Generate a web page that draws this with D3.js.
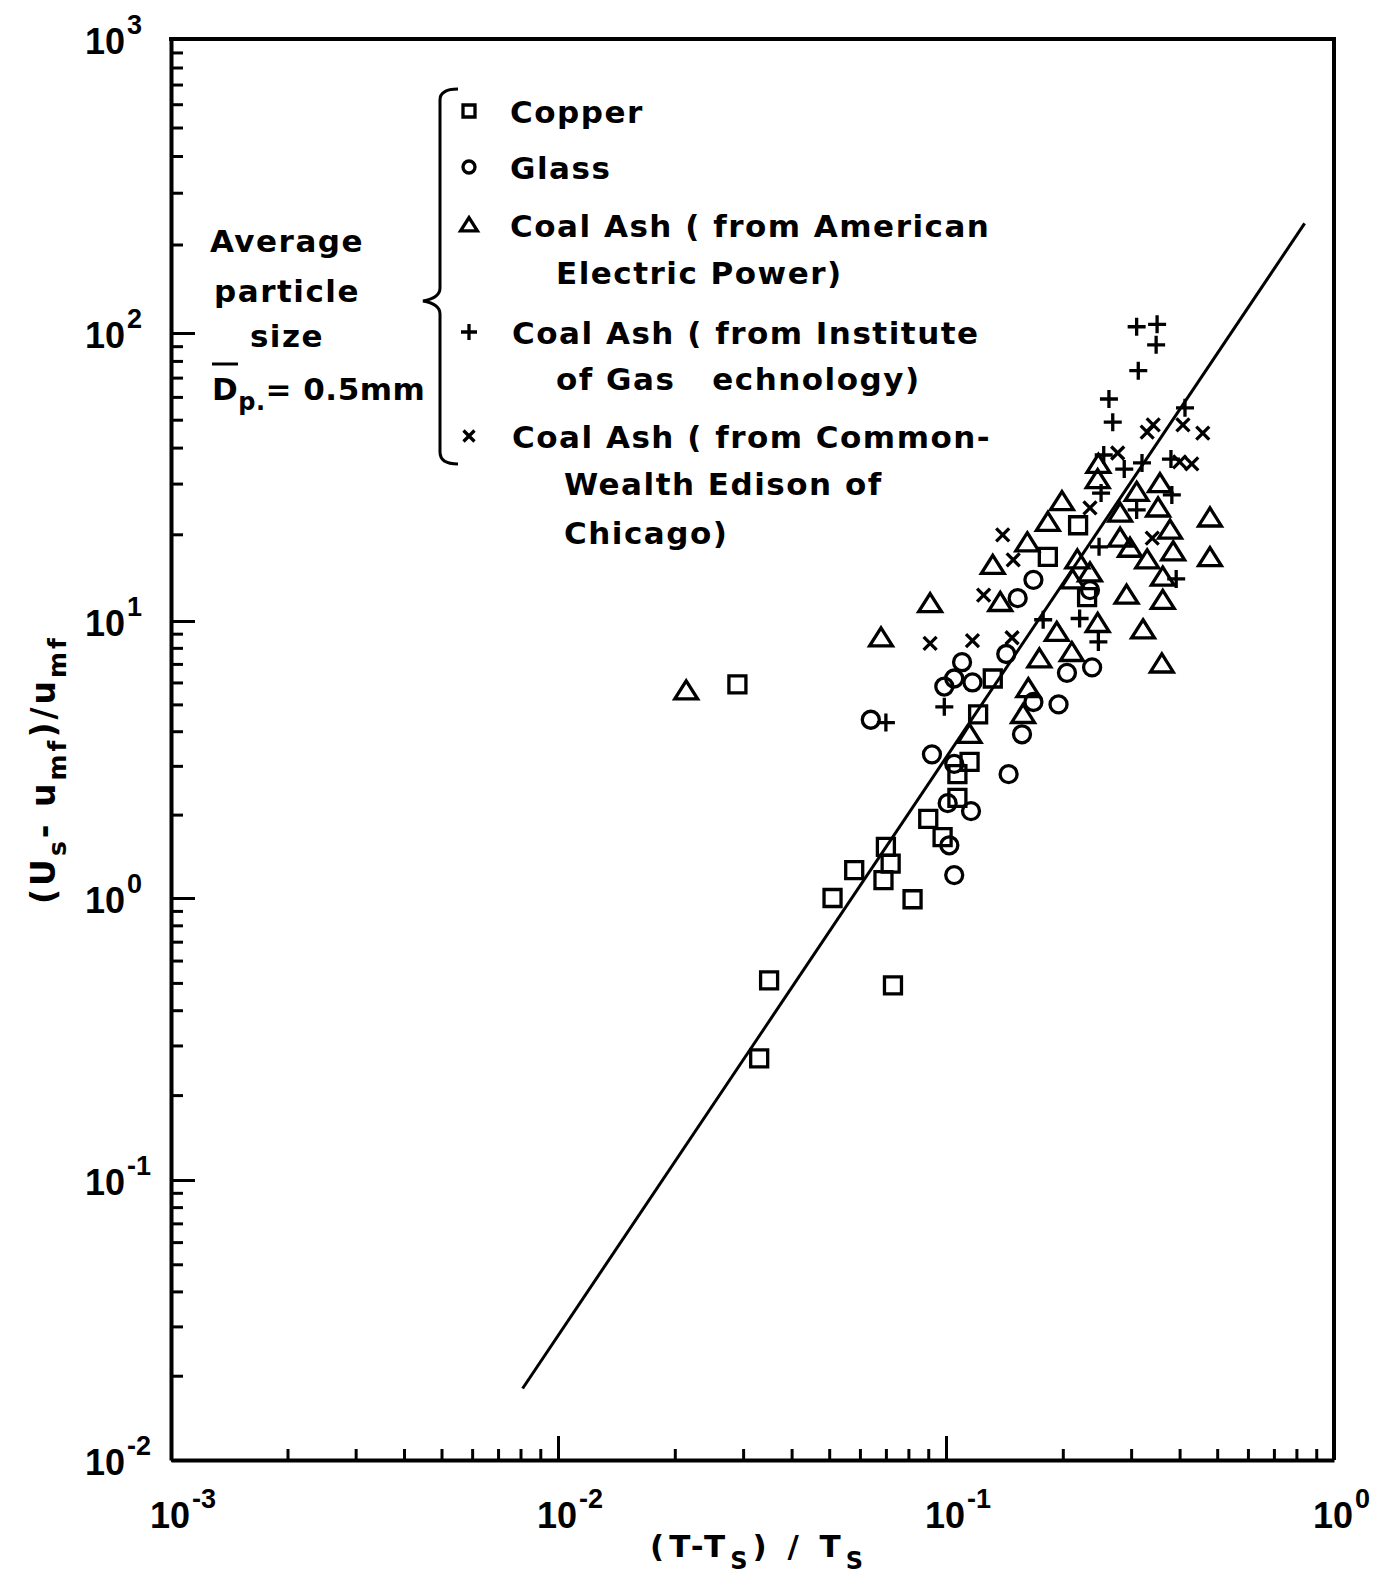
<!DOCTYPE html>
<meta charset="utf-8">
<style>
body { margin: 0; background: #fff; }
.axis path.domain { stroke-width: 4px; }
.axis line { stroke-width: 3px; }
.lbl { font-family: "DejaVu Sans", sans-serif; font-weight: bold; fill: #000; }
.tick-lbl { font-family: "Liberation Sans", sans-serif; font-weight: bold; fill: #000; }
.note { font-family: "DejaVu Sans", sans-serif; font-weight: bold; font-size: 31px; letter-spacing: 1.5px; fill: #000; white-space: pre; }
.mark { fill: none; stroke: #000; stroke-width: 3.3px; }
</style>
<body>
<div id="chart"></div>
<script src="https://d3js.org/d3.v7.min.js"></script>
<script>
// points: [ (T-Ts)/Ts , (Us-umf)/umf ]
var copper = [[0.029, 5.9], [0.035, 0.51], [0.033, 0.27], [0.051, 1.0], [0.058, 1.26], [0.070, 1.53],
  [0.072, 1.33], [0.069, 1.16], [0.082, 0.99], [0.073, 0.49], [0.090, 1.93], [0.098, 1.66],
  [0.115, 3.1], [0.107, 2.8], [0.107, 2.3], [0.121, 4.6], [0.132, 6.2], [0.183, 16.7],
  [0.219, 21.5], [0.231, 12.1]];
var glass = [[0.064, 4.4], [0.092, 3.3], [0.105, 3.05], [0.101, 2.2], [0.116, 2.06], [0.102, 1.55],
  [0.105, 1.21], [0.110, 7.1], [0.099, 5.8], [0.105, 6.2], [0.117, 6.0], [0.143, 7.6],
  [0.153, 12.0], [0.168, 13.9], [0.168, 5.1], [0.157, 3.9], [0.145, 2.8], [0.195, 5.0],
  [0.205, 6.5], [0.238, 6.8], [0.235, 12.8]];
var ash_aep = [[0.0214, 5.6], [0.068, 8.7], [0.091, 11.5], [0.132, 15.6], [0.138, 11.6], [0.162, 18.7],
  [0.183, 22], [0.199, 26], [0.174, 7.3], [0.163, 5.7], [0.158, 4.6], [0.115, 3.9],
  [0.247, 35], [0.246, 31], [0.218, 16.3], [0.235, 14.7], [0.212, 13.9], [0.281, 23.7],
  [0.31, 28], [0.356, 30], [0.352, 24.7], [0.378, 20.7], [0.281, 19.4], [0.298, 17.9],
  [0.33, 16.3], [0.385, 17.4], [0.362, 14.2], [0.292, 12.3], [0.362, 11.8], [0.479, 22.8],
  [0.479, 16.6], [0.246, 9.8], [0.193, 9.1], [0.322, 9.3], [0.211, 7.7], [0.36, 7.0]];
var ash_igt = [[0.070, 4.3], [0.099, 4.9], [0.31, 105], [0.35, 107], [0.348, 91], [0.313, 74],
  [0.263, 59], [0.269, 49], [0.413, 55], [0.255, 37.7], [0.288, 33.7], [0.32, 35.4],
  [0.38, 36.5], [0.251, 27.8], [0.382, 27.4], [0.31, 24.3], [0.248, 18.1], [0.392, 14.0],
  [0.221, 10.2], [0.247, 8.4], [0.178, 10.1]];
var ash_cwe = [[0.091, 8.3], [0.117, 8.5], [0.148, 8.7], [0.125, 12.3], [0.14, 19.9], [0.149, 16.3],
  [0.235, 24.7], [0.277, 38.3], [0.33, 45.3], [0.342, 48], [0.408, 48], [0.459, 44.9],
  [0.40, 35.7], [0.43, 35.1], [0.34, 19.4]];
var fit_line = [[0.0081, 0.018], [0.84, 236]];

var x_decades = [1e-3, 1e-2, 1e-1, 1];
var y_decades = [1e-2, 1e-1, 1, 10, 100, 1000];
var x_exp = ["-3", "-2", "-1", "0"];
var y_exp = ["-2", "-1", "0", "1", "2", "3"];

var legend_shapes = ["square", "circle", "triangle", "plus", "cross"];
var legend_text = [["Copper"], ["Glass"],
  ["Coal Ash ( from American", "Electric Power)"],
  ["Coal Ash ( from Institute", "of Gas   echnology)"],
  ["Coal Ash ( from Common-", "Wealth Edison of", "Chicago)"]];
var note_text = ["Average", "particle", "size"];

var width = 1388, height = 1576;

var svg = d3.select("#chart").append("svg")
    .attr("width", width)
    .attr("height", height);
svg.append("rect").attr("width", width).attr("height", height).attr("fill", "#fff");

// printed log paper is a bit uneven, so each decade gets its own span
var x = d3.scaleLog().domain(x_decades).range([171, 558, 946, 1334]);
var y = d3.scaleLog().domain(y_decades).range([1460, 1180, 898, 621, 333, 39]);

function is_decade(v) {
  var l = Math.log10(v);
  return Math.abs(l - Math.round(l)) < 1e-6;
}
var x_minor = x.ticks().filter(function(d) { return !is_decade(d); });
var y_minor = y.ticks().filter(function(d) { return !is_decade(d); });

// axes, ticks pointing inward
svg.append("g").attr("class", "axis")
    .attr("transform", "translate(0,1460)")
    .call(d3.axisBottom(x).tickValues(x_decades).tickSize(-24).tickSizeOuter(0).tickFormat(""));
svg.append("g").attr("class", "axis")
    .attr("transform", "translate(0,1460)")
    .call(d3.axisBottom(x).tickValues(x_minor).tickSize(-11).tickSizeOuter(0).tickFormat(""))
    .select(".domain").remove();
svg.append("g").attr("class", "axis")
    .attr("transform", "translate(171,0)")
    .call(d3.axisLeft(y).tickValues(y_decades).tickSize(-24).tickSizeOuter(0).tickFormat(""));
svg.append("g").attr("class", "axis")
    .attr("transform", "translate(171,0)")
    .call(d3.axisLeft(y).tickValues(y_minor).tickSize(-12).tickSizeOuter(0).tickFormat(""))
    .select(".domain").remove();

svg.append("path")
    .attr("d", "M169," + y(1000) + "H" + x(1) + "V" + y(0.01))
    .attr("fill", "none").attr("stroke", "#000").attr("stroke-width", 4);

// tick labels as 10 with a raised exponent
function power_label(px, py, e) {
  var t = svg.append("text").attr("class", "tick-lbl")
      .attr("x", px).attr("y", py)
      .style("font-size", "36px");
  t.append("tspan").text("10");
  t.append("tspan").attr("dx", 2).attr("dy", -20).style("font-size", "27px").text(e);
}
x_decades.forEach(function(d, i) { power_label(x(d) - 21, 1528, x_exp[i]); });
y_decades.forEach(function(d, i) { power_label(85, y(d) + 15, y_exp[i]); });

// axis titles
var xt = svg.append("text").attr("class", "lbl")
    .attr("x", 650).attr("y", 1557)
    .style("font-size", "31px").style("letter-spacing", "5px");
xt.append("tspan").text("(T-T");
xt.append("tspan").attr("dy", 12).style("font-size", "24px").text("S");
xt.append("tspan").attr("dy", -12).text(") / T");
xt.append("tspan").attr("dy", 12).style("font-size", "24px").text("S");

var yt = svg.append("text").attr("class", "lbl")
    .attr("transform", "translate(55,904) rotate(-90)")
    .style("font-size", "33px").style("letter-spacing", "3px");
yt.append("tspan").text("(U");
yt.append("tspan").attr("dy", 11).style("font-size", "25px").text("s");
yt.append("tspan").attr("dy", -11).text("- u");
yt.append("tspan").attr("dy", 11).style("font-size", "25px").text("mf");
yt.append("tspan").attr("dy", -11).text(")/u");
yt.append("tspan").attr("dy", 11).style("font-size", "25px").text("mf");

// marker shapes
function shape(type, s) {
  if (type == "square") return "M" + (-s) + "," + (-s) + "h" + 2 * s + "v" + 2 * s + "h" + (-2 * s) + "Z";
  if (type == "circle") return "M" + s + ",0A" + s + "," + s + " 0 1,1 " + (-s) + ",0A" + s + "," + s + " 0 1,1 " + s + ",0";
  if (type == "triangle") return "M0," + (-s * 1.05) + "L" + (s * 1.2) + "," + (s * 0.85) + "H" + (-s * 1.2) + "Z";
  if (type == "plus") return "M" + (-s) + ",0H" + s + "M0," + (-s) + "V" + s;
  return "M" + (-s) + "," + (-s) + "L" + s + "," + s + "M" + s + "," + (-s) + "L" + (-s) + "," + s;
}

var series = [
  {data: copper, type: "square", size: 8.5},
  {data: glass, type: "circle", size: 8.5},
  {data: ash_aep, type: "triangle", size: 9.5},
  {data: ash_igt, type: "plus", size: 9},
  {data: ash_cwe, type: "cross", size: 6.5}
];

series.forEach(function(s) {
  svg.append("g").selectAll("path")
      .data(s.data)
    .enter().append("path")
      .attr("class", "mark")
      .attr("transform", function(d) { return "translate(" + x(d[0]) + "," + y(d[1]) + ")"; })
      .attr("d", shape(s.type, s.size));
});

svg.append("path")
    .datum(fit_line)
    .attr("fill", "none").attr("stroke", "#000").attr("stroke-width", 3)
    .attr("d", d3.line().x(function(d) { return x(d[0]); }).y(function(d) { return y(d[1]); }));

// legend with brace
svg.append("path")
    .attr("d", "M458,89 Q440,89 440,100 V288 Q440,298 423,301 Q440,304 440,314 V452 Q440,464 458,464")
    .attr("fill", "none").attr("stroke", "#000").attr("stroke-width", 3);

var legend_y = [[123], [179], [237, 284], [344, 390], [448, 495, 544]];
var legend_x = [[510], [510], [510, 556], [512, 556], [512, 564, 564]];
var legend_size = [6, 6, 7, 8, 5.5];
legend_shapes.forEach(function(t, i) {
  svg.append("path").attr("class", "mark")
      .attr("transform", "translate(469," + (legend_y[i][0] - 12) + ")")
      .attr("d", shape(t, legend_size[i]));
  legend_text[i].forEach(function(line, j) {
    svg.append("text").attr("class", "note")
        .attr("x", legend_x[i][j]).attr("y", legend_y[i][j])
        .text(line);
  });
});

// particle size note
var note_y = [252, 302, 347];
note_text.forEach(function(line, i) {
  svg.append("text").attr("class", "note")
      .attr("x", 287).attr("y", note_y[i])
      .attr("text-anchor", "middle")
      .text(line);
});
var dp = svg.append("text").attr("class", "note").attr("x", 212).attr("y", 400)
    .style("letter-spacing", "0.5px");
dp.append("tspan").text("D");
dp.append("tspan").attr("dy", 10).style("font-size", "24px").text("p.");
dp.append("tspan").attr("dy", -10).text("= 0.5mm");
svg.append("line")
    .attr("x1", 212).attr("x2", 238).attr("y1", 364).attr("y2", 364)
    .attr("stroke", "#000").attr("stroke-width", 3);
</script>
</body>
